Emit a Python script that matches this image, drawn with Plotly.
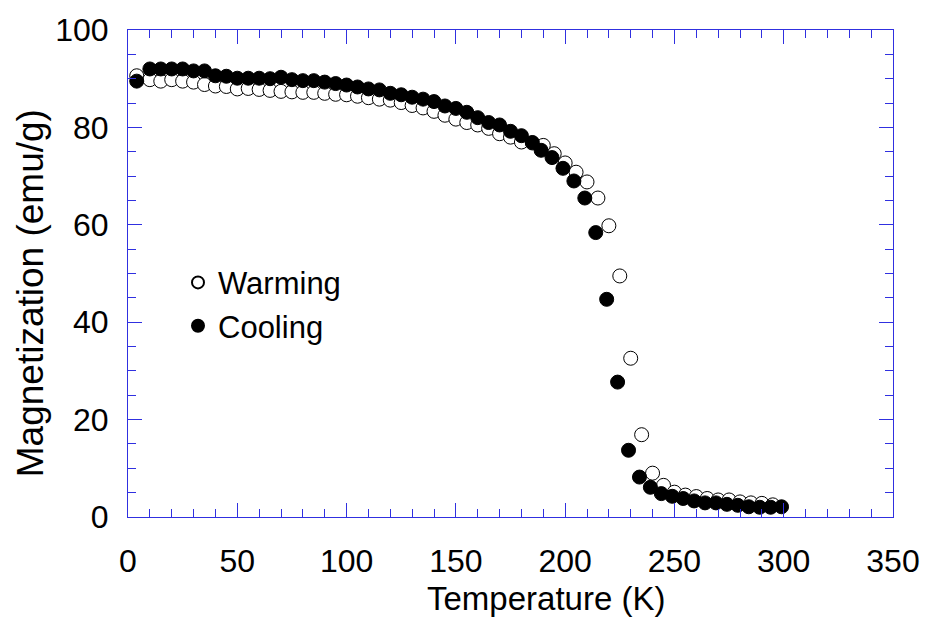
import plotly.graph_objects as go

# Warming (open circles)
warm_T = [4, 10, 15, 20, 25, 30, 35, 40, 45, 50, 55, 60, 65, 70, 75, 80, 85, 90, 95, 100,
          105, 110, 115, 120, 125, 130, 135, 140, 145, 150, 155, 160, 165, 170, 175, 180,
          185, 190, 195, 200, 205, 210, 215, 220, 225, 230, 235, 240, 245, 250, 255, 260,
          265, 270, 275, 280, 285, 290, 295]
warm_M = [90.6, 89.8, 89.5, 89.8, 89.5, 89.3, 88.8, 88.5, 88.4, 87.9, 88.0, 87.8, 87.6, 87.4,
          87.3, 87.2, 87.2, 87.0, 86.8, 86.7, 86.4, 86.1, 85.8, 85.6, 85.1, 84.5, 84.0, 83.3,
          82.5, 81.7, 81.0, 80.5, 79.8, 78.7, 78.0, 77.0, 76.8, 76.3, 74.6, 72.7, 70.8, 68.8,
          65.5, 59.8, 49.5, 32.6, 16.9, 9.0, 6.5, 5.1, 4.5, 4.2, 3.8, 3.5, 3.5, 3.1, 2.9,
          2.8, 2.5]

# Cooling (filled circles)
cool_T = [4, 10, 15, 20, 25, 30, 35, 40, 45, 50, 55, 60, 65, 70, 75, 80, 85, 90, 95, 100,
          105, 110, 115, 120, 125, 130, 135, 140, 145, 150, 155, 160, 165, 170, 175, 180,
          185, 189, 194, 199, 204, 209, 214, 219, 224, 229, 234, 239, 244, 249, 254, 259,
          264, 269, 274, 279, 284, 289, 294, 299]
cool_M = [89.5, 92.0, 92.0, 92.0, 92.0, 91.6, 91.6, 90.6, 90.5, 90.1, 90.1, 90.1, 90.0, 90.3,
          89.8, 89.6, 89.6, 89.3, 89.0, 88.7, 88.3, 87.9, 87.7, 87.0, 86.7, 86.2, 85.8, 85.3,
          84.4, 83.9, 83.1, 82.0, 81.0, 80.5, 79.2, 78.3, 76.9, 75.3, 73.8, 71.6, 69.0, 65.5,
          58.4, 44.7, 27.7, 13.7, 8.2, 6.1, 4.8, 4.25, 3.8, 3.3, 2.9, 2.9, 2.6, 2.4, 2.1,
          2.0, 2.0, 2.1]

x_ticks = [0, 50, 100, 150, 200, 250, 300, 350]
y_ticks = [0, 20, 40, 60, 80, 100]

AX = "#3030e0"
FONT = "Liberation Sans, Arial, sans-serif"

# plot-area geometry in pixels (for placing titles)
L, R, T, B = 128, 40, 23, 108
PW, PH = 933 - L - R, 625 - T - B

fig = go.Figure()
fig.add_trace(go.Scatter(x=warm_T, y=warm_M, mode="markers", name="Warming",
                         marker=dict(symbol="circle", size=14, color="white",
                                     line=dict(color="black", width=1))))
fig.add_trace(go.Scatter(x=cool_T, y=cool_M, mode="markers", name="Cooling",
                         marker=dict(symbol="circle", size=14, color="black",
                                     line=dict(color="black", width=1))))

fig.update_layout(
    width=933, height=625,
    margin=dict(l=L, r=R, t=T, b=B),
    paper_bgcolor="white", plot_bgcolor="white",
    font=dict(family=FONT, color="black"),
    showlegend=True,
    legend=dict(x=(178 - L) / PW, y=(517 - 252) / PH, xanchor="left", yanchor="top",
                bgcolor="rgba(0,0,0,0)", font=dict(family=FONT, size=31),
                itemsizing="constant", tracegroupgap=0),
    xaxis=dict(range=[0, 350], tickvals=x_ticks, ticktext=[str(v) for v in x_ticks],
               showgrid=False, zeroline=False, showline=True, linecolor=AX, linewidth=1,
               mirror="allticks", ticks="inside", ticklen=14, tickcolor=AX, tickwidth=1,
               minor=dict(dtick=10, ticks="inside", ticklen=8, tickcolor=AX, tickwidth=1,
                          showgrid=False),
               tickfont=dict(size=32, family=FONT), ticklabelstandoff=16),
    yaxis=dict(range=[0, 100], tickvals=y_ticks, ticktext=[str(v) for v in y_ticks],
               showgrid=False, zeroline=False, showline=True, linecolor=AX, linewidth=1,
               mirror="allticks", ticks="inside", ticklen=14, tickcolor=AX, tickwidth=1,
               minor=dict(dtick=5, ticks="inside", ticklen=8, tickcolor=AX, tickwidth=1,
                          showgrid=False),
               tickfont=dict(size=32, family=FONT), ticklabelstandoff=12),
    annotations=[
        dict(text="Temperature (K)", xref="paper", yref="paper",
             x=(546 - L) / PW, y=(517 - 600) / PH, xanchor="center", yanchor="middle",
             showarrow=False, font=dict(size=33, family=FONT, color="black")),
        dict(text="Magnetization (emu/g)", xref="paper", yref="paper", textangle=-90,
             x=(30 - L) / PW, y=(517 - 290) / PH, xanchor="center", yanchor="middle",
             showarrow=False, font=dict(size=37, family=FONT, color="black")),
    ],
)

fig.write_html("out.html")
